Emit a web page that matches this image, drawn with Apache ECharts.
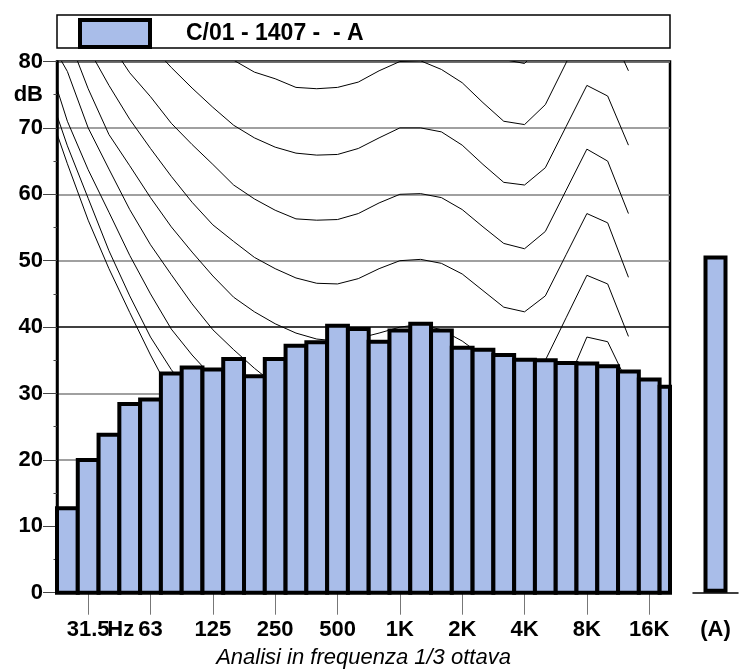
<!DOCTYPE html>
<html>
<head>
<meta charset="utf-8">
<script src="https://cdn.jsdelivr.net/npm/echarts@6/dist/echarts.min.js"></script>
<style>html,body{margin:0;padding:0;background:#fff;}#c{width:744px;height:670px;}</style>
</head>
<body>
<div id="c"></div>
<script>
// ---- data ----
const seriesName = 'C/01 - 1407 -  - A';
const bands = ['25','31.5','40','50','63','80','100','125','160','200','250','315','400','500','630','800','1K','1.25K','1.6K','2K','2.5K','3.15K','4K','5K','6.3K','8K','10K','12.5K','16K','20K'];
const levels = [12.7,20.0,23.8,28.4,29.1,33.0,33.9,33.6,35.2,32.6,35.2,37.2,37.7,40.2,39.7,37.8,39.5,40.5,39.5,36.9,36.6,35.8,35.1,35.0,34.6,34.5,34.1,33.3,32.1,31.0];
const aWeighted = 50.8;
const aLabel = '(A)';
const tickIdx = [1,4,7,10,13,16,19,22,25,28];
const tickLabels = ['31.5','63','125','250','500','1K','2K','4K','8K','16K'];
const hzPos = 2.57;
const hzLabel = 'Hz';
const yLabelValues = [0,10,20,30,40,50,60,70,75,80];
const unitLabel = 'dB';
const xName = 'Analisi in frequenza 1/3 ottava';
// equal-loudness contours, bands 20 Hz .. 12.5 kHz (null = not drawn)
const curveBands = ['20','25','31.5','40','50','63','80','100','125','160','200','250','315','400','500','630','800','1K','1.25K','1.6K','2K','2.5K','3.15K','4K','5K','6.3K','8K','10K','12.5K'];
const phon0  = [73.6,64.6,56.1,48.8,42.2,35.8,29.9,25.5,21.5,null,null,null,null,null,null,null,null,null,null,null,null,null,null,null,null,null,null,null,null];
const phon10 = [76.4,67.3,59.4,51.5,44.7,38.5,33.6,29.5,26.0,null,null,null,null,null,null,null,null,null,null,null,null,null,null,null,null,null,null,null,null];
const phon20 = [80.8,71.0,63.7,57.3,50.8,45.0,39.7,35.8,32.4,29.0,null,null,null,null,null,null,null,null,null,null,null,null,null,null,null,null,null,null,null];
const phon30 = [84.0,78.5,70.0,63.8,57.7,52.4,47.9,43.5,39.6,36.6,33.8,31.3,29.5,28.3,28.2,28.8,29.5,30.0,30.5,30.0,28.3,25.8,23.9,23.3,25.8,31.2,38.5,37.8,31.3];
const phon40 = [89.0,84.0,75.9,69.0,64.3,59.5,55.1,51.3,47.7,44.5,42.3,40.5,39.1,38.2,37.9,38.3,39.1,40.0,40.4,39.6,37.9,35.6,33.4,32.8,35.0,41.4,47.8,46.5,38.6];
const phon50 = [94.0,88.5,82.0,76.4,71.3,66.9,62.7,58.8,55.4,52.9,50.5,48.8,47.4,46.6,46.5,47.3,48.8,50.0,50.2,49.6,48.0,45.5,43.0,42.3,44.7,50.9,57.1,55.7,47.5];
const phon60 = [101.0,96.0,90.0,83.0,78.3,74.7,70.7,67.5,64.5,61.4,59.3,57.6,56.3,56.1,56.2,57.1,58.7,60.0,60.1,59.5,57.7,55.1,52.6,51.8,54.4,60.6,66.8,65.0,57.1];
const phon70 = [106.0,102.0,97.0,92.0,87.0,82.5,79.1,76.0,73.1,70.4,68.5,67.1,66.2,65.9,66.0,66.9,68.5,70.0,70.0,69.4,67.4,64.5,61.8,61.4,64.0,70.2,76.4,74.8,67.4];
const phon80 = [115.0,110.0,105.0,100.0,96.0,92.0,89.0,86.0,83.0,80.2,78.4,77.4,76.1,75.9,76.1,76.9,78.6,80.0,80.1,78.8,76.8,73.8,71.0,70.5,73.5,79.8,86.2,85.5,78.6];
const phon90 = [null,null,null,null,null,null,null,null,null,null,null,null,null,null,null,null,88.5,90.0,90.1,88.8,86.5,83.2,80.3,79.7,83.0,89.5,null,null,null];
const curves = [phon0,phon10,phon20,phon30,phon40,phon50,phon60,phon70,phon80,phon90];

// ---- chart ----
const FONT = '"Liberation Sans", Arial, sans-serif';
const barFill = '#a9bde9';
const chart = echarts.init(document.getElementById('c'), null, {renderer: 'canvas'});

const curveSeries = curves.map((arr, k) => ({
  type: 'line',
  name: 'curve' + k,
  xAxisIndex: 0, yAxisIndex: 0,
  data: arr.map((v, i) => [i - 1, v]).filter(p => p[1] !== null),
  symbol: 'none',
  lineStyle: {color: '#000', width: 1},
  z: 1, silent: true, clip: true
}));

function renderBand(params, api) {
  const x = api.value(0), v = api.value(1);
  const p0 = api.coord([x - 0.5, v]);
  const p1 = api.coord([x + 0.5, 0]);
  const cs = params.coordSys;
  const rect = echarts.graphic.clipRectByRect(
    {x: p0[0], y: p0[1], width: p1[0] - p0[0], height: p1[1] - p0[1]},
    {x: cs.x, y: cs.y - 5, width: cs.width, height: cs.height + 10}
  );
  if (!rect) return null;
  return {
    type: 'rect', shape: rect,
    style: {fill: barFill, stroke: '#000', lineWidth: 4, lineJoin: 'miter'}
  };
}

const option = {
  animation: false,
  backgroundColor: '#fff',
  textStyle: {fontFamily: FONT},
  graphic: [{
    type: 'rect', z: 0,
    shape: {x: 57, y: 15, width: 613, height: 33},
    style: {fill: '#fff', stroke: '#000', lineWidth: 1.5}
  }],
  legend: {
    data: [seriesName],
    left: 78, top: 18, padding: 0,
    itemWidth: 70, itemHeight: 27,
    icon: 'rect',
    itemStyle: {color: barFill, borderColor: '#000', borderWidth: 4},
    formatter: n => '{t|' + n + '}',
    textStyle: {color: '#000', fontSize: 23, fontWeight: 'bold', fontFamily: FONT,
      rich: {t: {fontSize: 23, fontWeight: 'bold', fontFamily: FONT, padding: [0,0,0,31]}}},
    selectedMode: false
  },
  grid: [
    {left: 57, right: 74, top: 61.5, bottom: 77.3, show: true, borderColor: '#000', borderWidth: 2.5,
     backgroundColor: 'transparent', containLabel: false, outerBoundsMode: 'none'},
    {left: 693, right: 6, top: 61.5, bottom: 77.3, containLabel: false, outerBoundsMode: 'none'}
  ],
  xAxis: [
    {
      type: 'value', gridIndex: 0, min: -0.5, max: 29,
      axisLine: {show: true, onZero: false, lineStyle: {color: '#000', width: 2}},
      axisTick: {show: true, customValues: tickIdx, length: 22, lineStyle: {color: '#777', width: 1}},
      axisLabel: {
        customValues: tickIdx.concat([hzPos]),
        formatter: v => (Math.abs(v - hzPos) < 1e-6 ? hzLabel : tickLabels[tickIdx.indexOf(v)]),
        margin: 26, fontSize: 22, fontWeight: 'bold', color: '#000', fontFamily: FONT
      },
      splitLine: {show: false},
      name: xName, nameLocation: 'middle', nameGap: 54,
      nameTextStyle: {fontSize: 22, fontStyle: 'italic', fontWeight: 'normal', color: '#000', fontFamily: FONT}
    },
    {
      type: 'category', gridIndex: 1, data: [aLabel],
      axisLine: {show: true, lineStyle: {color: '#000', width: 1.5}},
      axisTick: {show: false},
      axisLabel: {margin: 26, fontSize: 22, fontWeight: 'bold', color: '#000', fontFamily: FONT}
    }
  ],
  yAxis: [
    {
      type: 'value', gridIndex: 0, min: 0, max: 80, interval: 10,
      axisLine: {show: true, onZero: false, lineStyle: {color: '#000', width: 2.5}},
      axisTick: {show: true, length: 14, lineStyle: {color: '#444', width: 1}},
      minorTick: {show: true, splitNumber: 2, length: 3.5, lineStyle: {color: '#444', width: 1}},
      axisLabel: {
        customValues: yLabelValues,
        formatter: v => (v === 75 ? unitLabel : String(v)),
        margin: 14, fontSize: 22, fontWeight: 'bold', color: '#000', fontFamily: FONT
      },
      splitLine: {show: true, lineStyle: {width: 1.5,
        color: ['#808080','#808080','#808080','#808080','#000000','#808080','#808080','#808080','#808080']}}
    },
    {type: 'value', gridIndex: 1, min: 0, max: 80, show: false}
  ],
  series: curveSeries.concat([
    {
      type: 'custom', name: seriesName, xAxisIndex: 0, yAxisIndex: 0,
      renderItem: renderBand,
      encode: {x: 0, y: 1},
      data: levels.map((v, i) => [i, v]),
      itemStyle: {color: barFill, borderColor: '#000', borderWidth: 4},
      z: 2, clip: false
    },
    {
      type: 'bar', name: seriesName, xAxisIndex: 1, yAxisIndex: 1,
      data: [aWeighted],
      barWidth: 24,
      itemStyle: {color: barFill, borderColor: '#000', borderWidth: 4},
      z: 2
    }
  ])
};
chart.setOption(option);
</script>
</body>
</html>
